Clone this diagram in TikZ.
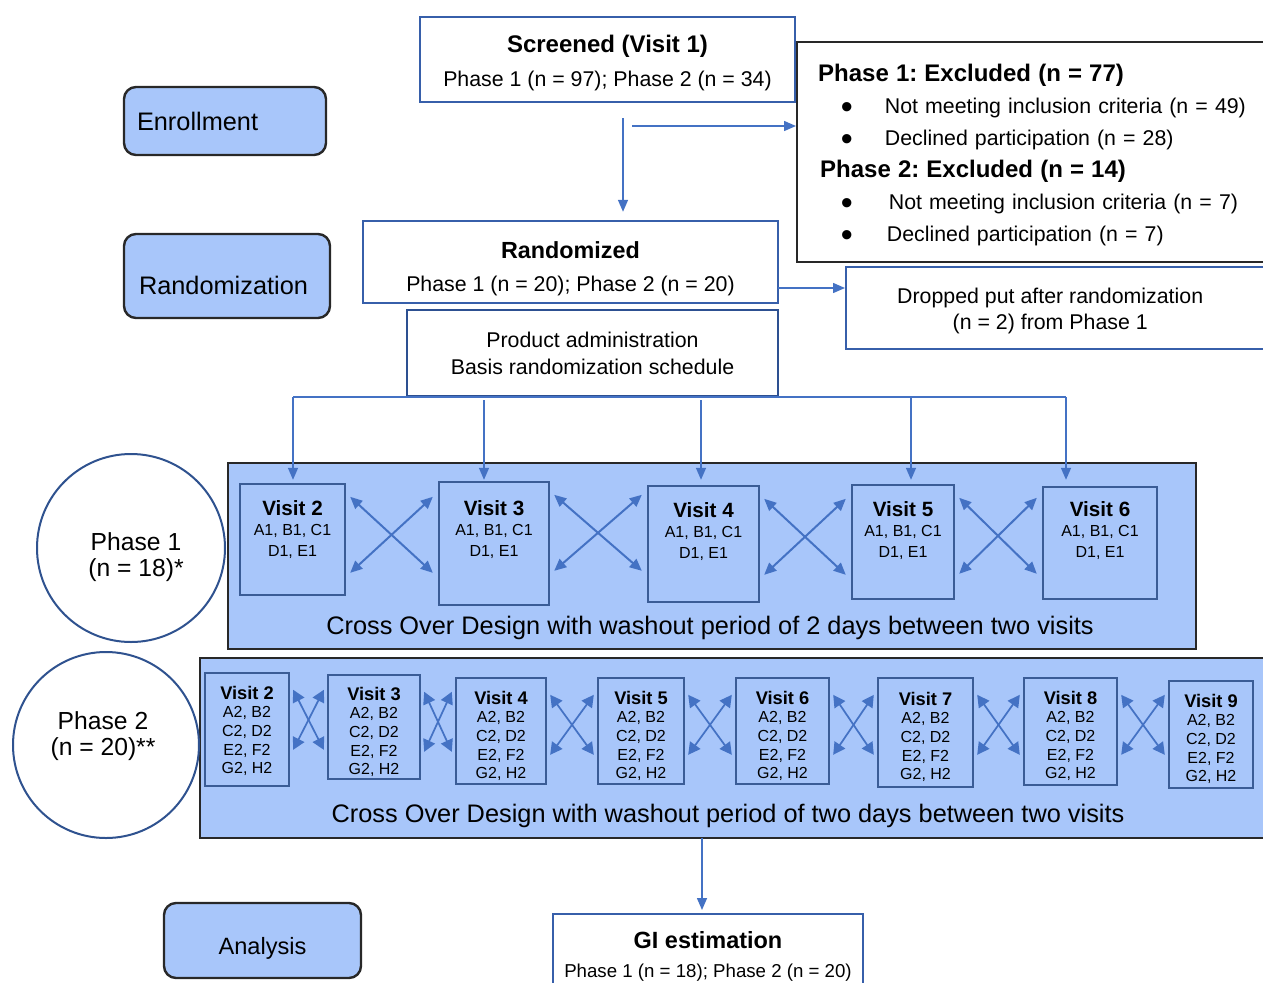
\documentclass[tikz,border=0pt]{standalone}
\usepackage{fontspec}
\usepackage{graphicx}
\setmainfont{Liberation Sans}
\usetikzlibrary{arrows.meta,calc}
\definecolor{lfill}{RGB}{168,198,250}
\definecolor{bborder}{RGB}{55,95,170}
\definecolor{pborder}{RGB}{45,80,145}
\definecolor{vborder}{RGB}{58,92,150}
\definecolor{arrowc}{RGB}{68,114,196}
\definecolor{dgray}{RGB}{40,40,40}
\definecolor{cborder}{RGB}{47,82,143}
\newcommand{\fs}[2]{\fontsize{#1}{#2}\selectfont}
\newcommand{\bul}{\hspace*{17pt}\makebox[33pt][l]{\raisebox{-0.2em}{\scalebox{1.6}{\textbullet}}}}
\frenchspacing
\begin{document}
\begin{tikzpicture}[x=0.75pt,y=-0.75pt,
  labelbox/.style={draw=dgray, fill=lfill, line width=1.8pt, rounded corners=9pt, inner ysep=0pt},
  whitebox/.style={draw=bborder, fill=white, line width=1.8pt, align=center, inner sep=0pt},
  bigbox/.style={draw=dgray, fill=lfill, line width=1.8pt, inner sep=0pt},
  vbox/.style={draw=vborder, fill=lfill, line width=1.8pt, inner sep=0pt},
  vtone/.style={align=center, inner sep=0pt, anchor=north, font=\fs{12}{15.5}},
  vttwo/.style={align=center, inner sep=0pt, anchor=north, font=\fs{12}{14}},
  conn/.style={draw=arrowc, line width=1.1pt},
  arr/.style={conn, -{Triangle[length=9pt,width=7.5pt]}},
  crossone/.style={draw=arrowc, line width=1.5pt, {Triangle[length=9pt,width=8pt]}-{Triangle[length=9pt,width=8pt]}},
  crosstwo/.style={draw=arrowc, line width=1.3pt, {Triangle[length=9pt,width=9.5pt]}-{Triangle[length=9pt,width=9.5pt]}},
  phase/.style={circle, draw=cborder, fill=white, line width=1.5pt, inner sep=0pt, align=center, font=\fs{18.5}{19.5}}
]
\path[use as bounding box] (0,0) rectangle (1263,982);
\clip (0,0) rectangle (1263,982);

% left labels
\node[labelbox, text width=132pt, align=left, inner xsep=9.75pt, minimum height=51pt, font=\fs{19}{22}] (enr) at (225,121) {Enrollment};
\node[labelbox, text width=132pt, align=left, inner xsep=11.25pt, minimum height=63pt, font=\fs{19}{22}] (rnd) at (227,276) {\raisebox{-6.75pt}[\height][\depth]{Randomization}};
\node[labelbox, minimum width=147.75pt, minimum height=56.25pt, font=\fs{17.7}{21}] (ana) at (262.5,940.5) {\raisebox{-5.6pt}[\height][\depth]{Analysis}};

% top flow
\node[whitebox, minimum width=281.25pt, minimum height=63.75pt, font=\fs{16}{25.5}] (scr) at (607.5,59.5) {\raisebox{-2.5pt}[\height][\depth]{\begin{tabular}{@{}c@{}}{\fs{18}{25.5}\bfseries Screened (Visit 1)}\\Phase 1 (n = 97); Phase 2 (n = 34)\end{tabular}}};
\node[draw=dgray, fill=white, line width=1.8pt, anchor=north west, minimum width=363pt, minimum height=165pt, text width=331.5pt, inner xsep=15.75pt, inner ysep=0pt, align=left, font=\fs{16}{24}] (exc) at (796,41) {%
\rule{0pt}{17.7pt}{\fs{18}{24}\bfseries Phase 1: Excluded (n = 77)}\\
\bul Not meeting inclusion criteria (n = 49)\\
\bul Declined participation (n = 28)\\
\hspace*{1.5pt}{\fs{18}{24}\bfseries Phase 2: Excluded (n = 14)}\\
\bul\hspace*{3pt}Not meeting inclusion criteria (n = 7)\\
\bul\hspace*{1.5pt}Declined participation (n = 7)};
\node[whitebox, minimum width=311.25pt, minimum height=61.5pt, font=\fs{16}{24.75}] (rzd) at (570.5,262) {\raisebox{-4.7pt}[\height][\depth]{\begin{tabular}{@{}c@{}}{\fs{17.5}{24.75}\bfseries Randomized}\\Phase 1 (n = 20); Phase 2 (n = 20)\end{tabular}}};
\node[whitebox, anchor=north west, minimum width=326.25pt, minimum height=61.5pt, font=\fs{16}{19.5}] (drp) at (845,266) {\raisebox{-2pt}[\height][\depth]{\begin{tabular}{@{}c@{}}Dropped put after randomization\\(n = 2) from Phase 1\end{tabular}}\hspace*{20.25pt}};
\node[whitebox, draw=pborder, minimum width=278.25pt, minimum height=64.5pt, font=\fs{16}{20.25}] (prod) at (592.5,353) {Product administration\\Basis randomization schedule};

% phase 1
\node[bigbox, minimum width=726pt, minimum height=139.5pt] (p1box) at (712,556) {};
\node[font=\fs{19}{22}, inner sep=0pt] (p1txt) at (710,628) {Cross Over Design with washout period of 2 days between two visits};
\node[vbox, minimum width=78.75pt, minimum height=83.25pt] (p1v2) at (292.5,539.5) {};
\node[vbox, minimum width=82.5pt, minimum height=92.25pt] (p1v3) at (494,543.5) {};
\node[vbox, minimum width=83.25pt, minimum height=87pt] (p1v4) at (703.5,544) {};
\node[vbox, minimum width=76.5pt, minimum height=85.5pt] (p1v5) at (903,542) {};
\node[vbox, minimum width=85.5pt, minimum height=84pt] (p1v6) at (1100,543) {};
\node[vtone] (p1v2t) at (292.5,500) {{\fs{15.5}{15.5}\bfseries Visit 2}\\A1, B1, C1\\D1, E1};
\node[vtone] (p1v3t) at (494,500) {{\fs{15.5}{15.5}\bfseries Visit 3}\\A1, B1, C1\\D1, E1};
\node[vtone] (p1v4t) at (703.5,502) {{\fs{15.5}{15.5}\bfseries Visit 4}\\A1, B1, C1\\D1, E1};
\node[vtone] (p1v5t) at (903,501) {{\fs{15.5}{15.5}\bfseries Visit 5}\\A1, B1, C1\\D1, E1};
\node[vtone] (p1v6t) at (1100,501) {{\fs{15.5}{15.5}\bfseries Visit 6}\\A1, B1, C1\\D1, E1};
\node[phase, minimum size=141pt] (ph1) at (131,548) {\raisebox{-7.35pt}[\height][\depth]{\hspace*{7.5pt}\begin{tabular}{@{}c@{}}Phase 1\\(n = 18)*\end{tabular}}};

% phase 2
\node[bigbox, anchor=north west, minimum width=810.75pt, minimum height=135pt] (p2box) at (199,657) {};
\node[font=\fs{19}{22}, inner sep=0pt] (p2txt) at (728,816) {Cross Over Design with washout period of two days between two visits};
\node[vbox, minimum width=63pt, minimum height=84.75pt] (p2v2) at (247,729.5) {};
\node[vbox, minimum width=69pt, minimum height=78pt] (p2v3) at (374,727) {};
\node[vbox, minimum width=67.5pt, minimum height=79.5pt] (p2v4) at (501,731) {};
\node[vbox, minimum width=64.5pt, minimum height=79.5pt] (p2v5) at (641,731) {};
\node[vbox, minimum width=69.75pt, minimum height=79.5pt] (p2v6) at (782.5,731) {};
\node[vbox, minimum width=71.25pt, minimum height=81.75pt] (p2v7) at (925.5,732.5) {};
\node[vbox, minimum width=69.75pt, minimum height=80.25pt] (p2v8) at (1070.5,731.5) {};
\node[vbox, minimum width=63pt, minimum height=80.25pt] (p2v9) at (1211,734.5) {};
\node[vttwo] (p2v2t) at (247,685.5) {{\fs{13.7}{14}\bfseries Visit 2}\\A2, B2\\C2, D2\\E2, F2\\G2, H2};
\node[vttwo] (p2v3t) at (374,686.5) {{\fs{13.7}{14}\bfseries Visit 3}\\A2, B2\\C2, D2\\E2, F2\\G2, H2};
\node[vttwo] (p2v4t) at (501,690.5) {{\fs{13.7}{14}\bfseries Visit 4}\\A2, B2\\C2, D2\\E2, F2\\G2, H2};
\node[vttwo] (p2v5t) at (641,690.5) {{\fs{13.7}{14}\bfseries Visit 5}\\A2, B2\\C2, D2\\E2, F2\\G2, H2};
\node[vttwo] (p2v6t) at (782.5,690.5) {{\fs{13.7}{14}\bfseries Visit 6}\\A2, B2\\C2, D2\\E2, F2\\G2, H2};
\node[vttwo] (p2v7t) at (925.5,691.5) {{\fs{13.7}{14}\bfseries Visit 7}\\A2, B2\\C2, D2\\E2, F2\\G2, H2};
\node[vttwo] (p2v8t) at (1070.5,690.5) {{\fs{13.7}{14}\bfseries Visit 8}\\A2, B2\\C2, D2\\E2, F2\\G2, H2};
\node[vttwo] (p2v9t) at (1211,693.5) {{\fs{13.7}{14}\bfseries Visit 9}\\A2, B2\\C2, D2\\E2, F2\\G2, H2};
\node[phase, minimum size=139.5pt] (ph2) at (106,745) {\raisebox{6.15pt}[\height][\depth]{\begin{tabular}{@{}c@{}}Phase 2\\(n = 20)**\end{tabular}\hspace*{4.5pt}}};

% analysis
\node[whitebox, anchor=north, minimum width=232.5pt, minimum height=63pt, font=\fs{14}{21.75}] (gi) at (708,913) {{\fs{17.6}{21.75}\bfseries GI estimation}\\Phase 1 (n = 18); Phase 2 (n = 20)};

% connectors
\coordinate (sd) at (623,118);
\coordinate (sr) at (632,126);
\draw[arr] (sd) -- ($(sd |- rzd.north)+(0,-8)$);
\draw[arr] (sr) -- (sr -| exc.west);
\coordinate (rd) at (778,288);
\draw[arr] (rd) -- (rd -| drp.west);

\coordinate (dl) at (293,397);
\coordinate (dr) at (1066,397);
\coordinate (dc) at (484,400);
\coordinate (dd) at (701,400);
\coordinate (de) at (911,397);
\draw[conn] (dl) -- (dr);
\foreach \c in {dl,dc,dd,de,dr}{
  \draw[arr] (\c) -- ($(\c |- p1box.north)+(0,18)$);
}

\foreach \a/\b in {p1v2/p1v3,p1v3/p1v4,p1v4/p1v5,p1v5/p1v6}{
  \draw[crossone] ($(\a.north east)+(4,14)$) -- ($(\b.west |- \a.north)+(-5,90)$);
  \draw[crossone] ($(\a.north east)+(4,90)$) -- ($(\b.west |- \a.north)+(-5,14)$);
}
\foreach \a/\b in {p2v2/p2v3,p2v3/p2v4,p2v4/p2v5,p2v5/p2v6,p2v6/p2v7,p2v7/p2v8,p2v8/p2v9}{
  \draw[crosstwo] ($(\a.north east)+(3,18)$) -- ($(\b.west |- \a.north)+(-3,78)$);
  \draw[crosstwo] ($(\a.north east)+(3,78)$) -- ($(\b.west |- \a.north)+(-3,18)$);
}

\coordinate (pg) at (702,838);
\draw[arr] (pg) -- ($(pg |- gi.north)+(0,-3)$);
\end{tikzpicture}
\end{document}
